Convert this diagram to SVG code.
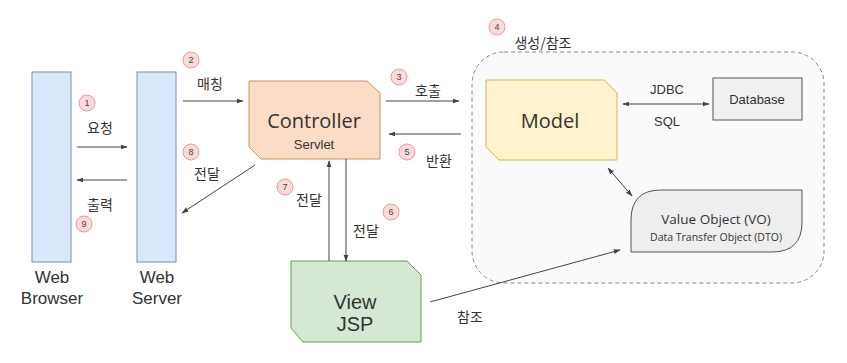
<svg xmlns="http://www.w3.org/2000/svg" width="847" height="363" viewBox="0 0 847 363">
<defs>
<marker id="ah" viewBox="0 0 10 10" refX="9" refY="5" markerWidth="7" markerHeight="7" orient="auto-start-reverse" markerUnits="userSpaceOnUse">
<path d="M0,1.5 L10,5 L0,8.5 Z" fill="#444"/>
</marker>
<style>
.kr{font-family:"Noto Sans CJK KR","Noto Sans",sans-serif;font-size:14px;fill:#333;text-anchor:middle;dominant-baseline:central}
.lat{font-family:"Liberation Sans",Arial,sans-serif;fill:#333;text-anchor:middle;dominant-baseline:central}
.big{font-family:"Open Sans","Liberation Sans",sans-serif;fill:#333;text-anchor:middle;dominant-baseline:central}
.num circle{fill:#fbdada;stroke:#e89a9a;stroke-width:1}
.num text{font-family:"Liberation Sans",Arial,sans-serif;font-size:9px;fill:#444;text-anchor:middle;dominant-baseline:central}
.conn line{stroke:#444;stroke-width:1;fill:none}
</style>
</defs>
<rect width="847" height="363" fill="#ffffff"/>

<g id="container">
<rect x="472" y="52" width="352" height="231" rx="32" ry="32" fill="#fafafa" stroke="#888" stroke-width="1" stroke-dasharray="4,3"/>
</g>

<g id="browser">
<rect x="32" y="72" width="39" height="190" fill="#dae8fc" stroke="#6c8ebf" stroke-width="1"/>
<text class="lat" x="52" y="277" font-size="17">Web</text>
<text class="lat" x="52" y="298" font-size="17">Browser</text>
</g>

<g id="server">
<rect x="137" y="72" width="39" height="190" fill="#dae8fc" stroke="#6c8ebf" stroke-width="1"/>
<text class="lat" x="157" y="277" font-size="17">Web</text>
<text class="lat" x="157" y="298" font-size="17">Server</text>
</g>

<g id="controller">
<path d="M249,81 L367,81 L380,93 L380,159 L261,159 L249,147 Z" fill="#fbdcc6" stroke="#c8965a" stroke-width="1"/>
<text class="big" x="314" y="120" font-size="20">Controller</text>
<text class="lat" x="314" y="144" font-size="13">Servlet</text>
</g>

<g id="view">
<path d="M291,261 L407,261 L421,275 L421,342 L303,342 L291,328 Z" fill="#d5e8d4" stroke="#6a9a55" stroke-width="1"/>
<text class="lat" x="355" y="302" font-size="20">View</text>
<text class="lat" x="355" y="324" font-size="20">JSP</text>
</g>

<g id="model">
<path d="M486,80 L604,80 L617,93 L617,160 L499,160 L486,147 Z" fill="#fff2cc" stroke="#d6b656" stroke-width="1"/>
<text class="big" x="550" y="120" font-size="20">Model</text>
</g>

<g id="database">
<rect x="713" y="78" width="89" height="42" fill="#f0f0f0" stroke="#555" stroke-width="1"/>
<text class="lat" x="757" y="99" font-size="13">Database</text>
</g>

<g id="vo">
<path d="M661,190 L802,190 L802,222 Q802,252 772,252 L631,252 L631,220 Q631,190 661,190 Z" fill="#eeeeee" stroke="#555" stroke-width="1"/>
<text class="big" x="716" y="219" font-size="13.5">Value Object (VO)</text>
<text class="big" x="716" y="237" font-size="10.5">Data Transfer Object (DTO)</text>
</g>

<g id="connectors" class="conn">
<line x1="77" y1="147" x2="127" y2="147" marker-end="url(#ah)"/>
<line x1="127" y1="180" x2="77" y2="180" marker-end="url(#ah)"/>
<line x1="183" y1="101" x2="243" y2="101" marker-end="url(#ah)"/>
<line x1="386" y1="101" x2="459" y2="101" marker-end="url(#ah)"/>
<line x1="461" y1="134" x2="389" y2="134" marker-end="url(#ah)"/>
<line x1="623" y1="104" x2="709" y2="104" marker-start="url(#ah)" marker-end="url(#ah)"/>
<line x1="608" y1="168" x2="632" y2="196" marker-start="url(#ah)" marker-end="url(#ah)"/>
<line x1="346" y1="159" x2="346" y2="261" marker-end="url(#ah)"/>
<line x1="329" y1="261" x2="329" y2="161" marker-end="url(#ah)"/>
<line x1="255" y1="165" x2="182" y2="213" marker-end="url(#ah)"/>
<line x1="430" y1="302" x2="620" y2="250" marker-end="url(#ah)"/>
</g>

<g id="labels">
<text class="kr" x="100" y="127">요청</text>
<text class="kr" x="100" y="204">출력</text>
<text class="kr" x="210" y="83">매칭</text>
<text class="kr" x="207" y="173">전달</text>
<text class="kr" x="428" y="90">호출</text>
<text class="kr" x="439" y="160">반환</text>
<text class="kr" x="309" y="199">전달</text>
<text class="kr" x="366" y="230">전달</text>
<text class="kr" x="470" y="316">참조</text>
<text class="kr" x="543" y="42">생성/참조</text>
<text class="lat" x="667" y="89" font-size="13">JDBC</text>
<text class="lat" x="667" y="121" font-size="13">SQL</text>
</g>

<g id="badges" class="num">
<circle cx="87" cy="103" r="8"/><text x="87" y="103">1</text>
<circle cx="191" cy="60" r="8"/><text x="191" y="60">2</text>
<circle cx="399" cy="77" r="8"/><text x="399" y="77">3</text>
<circle cx="497" cy="27" r="8"/><text x="497" y="27">4</text>
<circle cx="407" cy="152" r="8"/><text x="407" y="152">5</text>
<circle cx="391" cy="212" r="8"/><text x="391" y="212">6</text>
<circle cx="285" cy="187" r="8"/><text x="285" y="187">7</text>
<circle cx="191" cy="152" r="8"/><text x="191" y="152">8</text>
<circle cx="84" cy="224" r="8"/><text x="84" y="224">9</text>
</g>
</svg>
